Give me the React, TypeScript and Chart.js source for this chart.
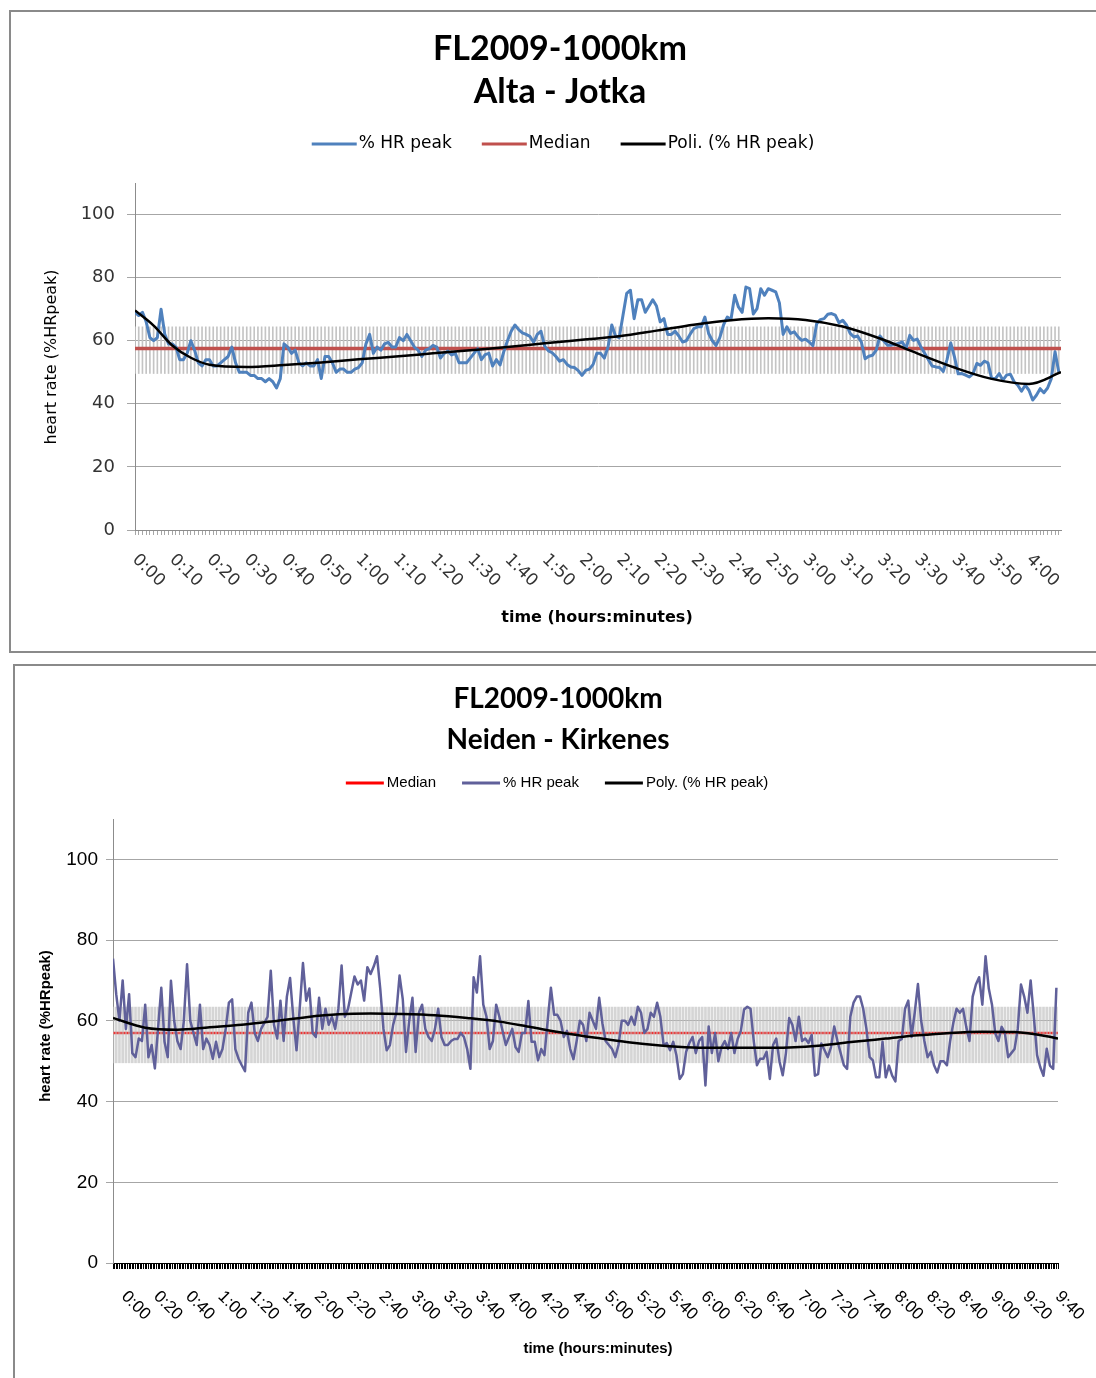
import { useEffect, useRef } from 'react';
import { Chart, registerables } from 'chart.js';

Chart.register(...registerables);

// ---------- Alta - Jotka : one reading per minute ----------
const altaTitle = ['FL2009-1000km', 'Alta - Jotka'];
const altaStepMin = 1;
const altaEndMin = 248.6;
const altaHr = [
  69, 68, 69, 66, 61, 60, 61, 70, 62, 59,
  59, 58, 54, 54, 56, 60, 57, 53, 52, 54,
  54, 52, 52, 53, 54, 55, 58, 53, 50, 50,
  50, 49, 49, 48, 48, 47, 48, 47, 45, 48,
  59, 58, 56, 57, 53, 52, 53, 52, 52, 54,
  48, 55, 55, 53, 50, 51, 51, 50, 50, 51,
  51.5, 53, 59, 62, 56, 58, 57, 59, 59.5, 58,
  58, 61, 60, 62, 60, 58, 57, 55, 57, 57.5,
  58.5, 58, 54.5, 56, 56.7, 55.5, 56, 53, 53, 53,
  54.5, 56, 57.5, 54, 55.6, 56, 52, 54, 52.3, 56.5,
  60, 63, 65, 63.5, 62.5, 62, 61.4, 59.5, 62, 63,
  58.2, 56.8, 56.2, 55, 53.5, 54, 52.5, 51.7, 51.5, 50.5,
  49, 50.6, 51, 52.5, 56, 56, 54.5, 58, 65, 61.5,
  61, 68, 75, 76, 67, 73, 73, 69, 71, 73,
  71, 66, 67, 62, 62, 63, 61.5, 59.6, 60, 62,
  63.8, 64.4, 64.4, 67.5, 62.3, 60, 58.5, 61, 65, 67.5,
  66.7, 74.4, 70.7, 69, 77, 76.5, 68.5, 70.2, 76.5, 74.4,
  76.5, 76, 75.5, 72, 62, 64.4, 62.3, 62.8, 61.2, 60.1,
  60.5, 59.6, 58.4, 65.4, 66.7, 67, 68.4, 68.6, 68.1, 65.7,
  66.5, 65, 62.3, 61.2, 61.5, 59.6, 54.3, 55.1, 55.4, 57,
  61.5, 60, 58.6, 58.6, 58.8, 59.1, 59.6, 57.5, 61.7, 60.1,
  60.5, 58, 56, 54, 52, 51.7, 51.5, 50.3, 54, 59.3,
  54.9, 49.5, 49.6, 49.1, 48.5, 49.6, 52.8, 52.2, 53.5, 53,
  48, 48, 49.6, 47.5, 49.1, 49.4, 47, 45.9, 44, 45.9,
  44.3, 41.2, 42.7, 44.8, 43.5, 45, 48, 56.5, 50.1,
];
const altaMedian = 57.5;
const altaZone = [49.6, 64.4];
const altaTrendMinutes = [0, 5, 10, 15, 20, 30, 40, 50, 60, 70, 80, 90, 100, 110, 120, 130, 140, 150, 160, 170, 180, 190, 200, 210, 220, 230, 240, 248.6];
const altaTrendValues = [69.6, 64.8, 58.5, 54.6, 52.4, 51.7, 52.3, 53.1, 54.1, 55.0, 56.0, 57.0, 58.0, 59.2, 60.3, 61.4, 63.2, 65.1, 66.5, 67.1, 66.6, 64.5, 60.7, 56.0, 51.5, 47.9, 46.3, 50.0];
const altaTickLabels = [
  '0:00', '0:10', '0:20', '0:30', '0:40', '0:50', '1:00', '1:10', '1:20', '1:30', '1:40', '1:50', '2:00',
  '2:10', '2:20', '2:30', '2:40', '2:50', '3:00', '3:10', '3:20', '3:30', '3:40', '3:50', '4:00',
];
const altaLabelEvery = 10;

// ---------- Neiden - Kirkenes : one reading every 2 minutes ----------
const kirkTitle = ['FL2009-1000km', 'Neiden - Kirkenes'];
const kirkStepMin = 2;
const kirkEndMin = 587;
const kirkHr = [
  75.4, 66.6, 60, 70, 58, 66.6, 52, 51, 55.6, 55,
  64, 51, 54, 48.2, 58.2, 68.2, 54.8, 51, 69.9, 60,
  55, 53, 60, 74, 60, 57, 54, 64, 53, 55.6,
  54, 50.6, 54.8, 51, 53, 58, 64.5, 65.3, 53, 50.6,
  49, 47.5, 62, 64.5, 57, 55, 58, 59.5, 61, 72.4,
  59, 55.6, 65, 55, 66, 70.6, 60.7, 52.7, 63.2, 74.3,
  65, 68, 57, 56, 65.7, 58, 63, 59, 61, 58,
  63, 73.7, 61, 63, 67, 71, 69, 70, 65, 73.3,
  71.6, 73.5, 76, 68, 58, 52.7, 54, 59, 62, 71.2,
  65.3, 52.3, 60, 65.7, 52.3, 62, 64, 58, 56, 55,
  58, 63, 56, 54, 54, 55, 55.5, 55.5, 57, 56,
  53, 48.1, 70.8, 67, 76, 64, 61, 53, 55, 64,
  61, 57.5, 54, 56, 58, 53.5, 52.3, 57, 57, 64.9,
  54.8, 54.8, 50.2, 53, 51.5, 60, 68.2, 61.5, 61.5, 60,
  56, 57.5, 53, 50.5, 55, 60, 59, 55, 62, 60,
  58, 65.7, 59.4, 55, 54, 53, 51, 54, 60, 60,
  59, 61, 59, 63.5, 62, 57, 58, 62, 61, 64.5,
  61, 54, 54.5, 52.7, 54.8, 51.4, 45.6, 46.8, 52.3, 54.5,
  56, 52, 55, 56, 44, 58.6, 52, 57, 50, 53.5,
  55, 53, 57, 52, 55.5, 57.5, 62.8, 63.5, 63, 55,
  49, 50.6, 50.6, 52.3, 45.6, 54, 55.6, 50, 46.5, 52,
  60.7, 59, 55, 61, 55, 55.6, 54.5, 56.5, 46.4, 46.8,
  54.4, 52.7, 51, 53.5, 58.6, 55, 52, 49, 48.1, 61,
  64.5, 66, 66, 63, 58, 51, 50.2, 46, 46, 54.8,
  46, 48.9, 46.4, 45, 55, 55.5, 63, 65, 56, 62,
  69.1, 60, 55, 51, 52.3, 49, 47.2, 50, 50, 49,
  55, 59.5, 63, 62, 63, 58.5, 55, 66, 69, 70.8,
  64, 76, 68, 64, 57, 55, 58.5, 57, 51, 52,
  53, 58, 69, 66, 62, 70, 61, 51.5, 48.5, 46.4,
  53.1, 48.9, 48.1, 68.2,
];
const kirkMedian = 57;
const kirkZone = [49.6, 63.4];
const kirkTrendMinutes = [0, 20, 40, 60, 80, 100, 120, 140, 160, 180, 200, 220, 240, 260, 280, 300, 320, 340, 360, 380, 400, 420, 440, 460, 480, 500, 520, 540, 560, 580, 587];
const kirkTrendValues = [60.7, 58.3, 57.8, 58.4, 59.0, 59.9, 60.9, 61.6, 61.8, 61.7, 61.4, 60.7, 59.8, 58.4, 57.0, 55.8, 54.7, 53.9, 53.4, 53.3, 53.3, 53.4, 53.9, 54.8, 55.6, 56.4, 57.0, 57.3, 57.2, 56.2, 55.6];
const kirkTickLabels = [
  '0:00', '0:20', '0:40', '1:00', '1:20', '1:40', '2:00', '2:20', '2:40', '3:00', '3:20', '3:40', '4:00', '4:20', '4:40',
  '5:00', '5:20', '5:40', '6:00', '6:20', '6:40', '7:00', '7:20', '7:40', '8:00', '8:20', '8:40', '9:00', '9:20', '9:40',
];
const kirkLabelEvery = 20;

const yTitle = 'heart rate (%HRpeak)';
const xTitle = 'time (hours:minutes)';

// text that Excel puts around the plot; drawn by hand so it lands where the original has it
function excelTextPlugin(t: any) {
  return {
    id: 'excelText',
    afterDraw(chart: any) {
      const ctx = chart.ctx;
      ctx.save();
      ctx.fillStyle = '#000';
      ctx.textBaseline = 'middle';

      ctx.font = t.titleFont;
      ctx.textAlign = 'center';
      t.title.forEach((line: string, i: number) => ctx.fillText(line, t.titleX, t.titleYs[i]));

      // legend
      ctx.font = t.legendFont;
      ctx.textAlign = 'left';
      const items = t.legend.map((i: number) => chart.data.datasets[i]);
      const widths = items.map((ds: any) => t.legendLine + t.legendTextGap + ctx.measureText(ds.label).width);
      const total = widths.reduce((a: number, b: number) => a + b, 0) + t.legendItemGap * (items.length - 1);
      let x = t.legendX - total / 2;
      items.forEach((ds: any, k: number) => {
        ctx.strokeStyle = ds.borderColor;
        ctx.lineWidth = 3;
        ctx.beginPath();
        ctx.moveTo(x, t.legendY);
        ctx.lineTo(x + t.legendLine, t.legendY);
        ctx.stroke();
        ctx.fillText(ds.label, x + t.legendLine + t.legendTextGap, t.legendY);
        x += widths[k] + t.legendItemGap;
      });

      // axis titles
      ctx.font = t.xTitleFont;
      ctx.textAlign = 'center';
      ctx.fillText(xTitle, t.xTitleX, t.xTitleY);
      ctx.save();
      ctx.translate(t.yTitleX, t.yTitleY);
      ctx.rotate(-Math.PI / 2);
      ctx.font = t.yTitleFont;
      ctx.fillText(yTitle, 0, 0);
      ctx.restore();

      // time labels, slanted downwards like Excel does
      const xs = chart.scales.x;
      ctx.font = t.xLabelFont;
      ctx.fillStyle = t.xLabelColor;
      ctx.textAlign = 'left';
      t.xLabels.forEach((lab: string, i: number) => {
        const px = xs.getPixelForValue(i * t.xLabelEvery);
        ctx.save();
        ctx.translate(px + t.xLabelDx, xs.top + t.xLabelDy);
        ctx.rotate(Math.PI / 4);
        ctx.fillText(lab, 0, 0);
        ctx.restore();
      });
      ctx.restore();
    },
  };
}

function altaConfig(): any {
  const hr = altaHr.map((v, i) => ({ x: i * altaStepMin, y: v }));
  const zone = altaHr.map((_, i) => ({ x: i * altaStepMin, y: altaZone }));
  const trend = altaTrendMinutes.map((m, i) => ({ x: m, y: altaTrendValues[i] }));
  return {
    type: 'line',
    data: {
      datasets: [
        { label: '% HR peak', data: hr, borderColor: '#4f81bd', borderWidth: 3, order: 1, borderJoinStyle: 'round' },
        { label: 'Median', data: [{ x: 0, y: altaMedian }, { x: altaEndMin, y: altaMedian }], borderColor: '#c0504d', borderWidth: 3.5, order: 2 },
        { label: 'Poli. (% HR peak)', data: trend, borderColor: '#000', borderWidth: 2.5, cubicInterpolationMode: 'monotone', order: 0 },
        { type: 'bar', label: 'zone', data: zone, backgroundColor: '#c4c4c4', barThickness: 1, order: 3 },
      ],
    },
    options: {
      animation: false,
      responsive: false,
      events: [],
      elements: { point: { radius: 0 } },
      layout: { padding: { top: 171, right: 35, left: 0, bottom: 0 } },
      plugins: { legend: { display: false }, title: { display: false }, tooltip: { enabled: false } },
      scales: {
        x: {
          type: 'linear', min: 0, max: altaEndMin, offset: false,
          ticks: { display: false, stepSize: 1, includeBounds: false },
          grid: { drawOnChartArea: false, tickLength: 5, color: '#a6a6a6', offset: false },
          border: { color: '#8c8c8c' },
          afterFit: (s: any) => { s.height = 121; },
        },
        y: {
          min: 0, max: 110,
          ticks: { stepSize: 20, includeBounds: false, padding: 12, color: '#333', font: { family: 'DejaVu Sans', size: 18 } },
          grid: { color: '#a6a6a6', tickLength: 8 },
          border: { color: '#8c8c8c' },
          afterFit: (s: any) => { s.width = 124; },
        },
      },
    },
    plugins: [excelTextPlugin({
      title: altaTitle, titleFont: 'bold 34px Lato', titleX: 549, titleYs: [37, 80],
      legend: [0, 1, 2], legendFont: '17px "DejaVu Sans"', legendX: 552, legendY: 132, legendLine: 45, legendTextGap: 2, legendItemGap: 30,
      yTitleFont: '16px "DejaVu Sans"', yTitleX: 41, yTitleY: 345,
      xTitleFont: 'bold 16px "DejaVu Sans"', xTitleX: 586, xTitleY: 606,
      xLabels: altaTickLabels, xLabelEvery: altaLabelEvery, xLabelFont: '17px "DejaVu Sans"', xLabelColor: '#333', xLabelDx: 0, xLabelDy: 27,
    })],
  };
}

function kirkConfig(): any {
  const hr = kirkHr.map((v, i) => ({ x: i * kirkStepMin, y: v }));
  const zone = kirkHr.map((_, i) => ({ x: i * kirkStepMin, y: kirkZone }));
  const trend = kirkTrendMinutes.map((m, i) => ({ x: m, y: kirkTrendValues[i] }));
  return {
    type: 'line',
    data: {
      datasets: [
        { label: 'Median', data: [{ x: 0, y: kirkMedian }, { x: kirkEndMin, y: kirkMedian }], borderColor: '#ff0000', borderWidth: 2.5, order: 3 },
        { label: '% HR peak', data: hr, borderColor: '#60609a', borderWidth: 2.5, order: 1, borderJoinStyle: 'round' },
        { label: 'Poly. (% HR peak)', data: trend, borderColor: '#000', borderWidth: 2.5, cubicInterpolationMode: 'monotone', order: 0 },
        { type: 'bar', label: 'zone', data: zone, backgroundColor: 'rgba(190,190,190,0.65)', barThickness: 2, order: 2 },
      ],
    },
    options: {
      animation: false,
      responsive: false,
      events: [],
      elements: { point: { radius: 0 } },
      layout: { padding: { top: 153, right: 38, left: 0, bottom: 0 } },
      plugins: { legend: { display: false }, title: { display: false }, tooltip: { enabled: false } },
      scales: {
        x: {
          type: 'linear', min: 0, max: kirkEndMin, offset: false,
          ticks: { display: false, stepSize: 1, includeBounds: false },
          grid: { drawOnChartArea: false, tickLength: 6, color: '#000', offset: false },
          border: { color: '#000' },
          afterFit: (s: any) => { s.height = 115; },
        },
        y: {
          min: 0, max: 110,
          ticks: { stepSize: 20, includeBounds: false, padding: 8, color: '#000', font: { family: 'Liberation Sans', size: 19 } },
          grid: { color: '#a6a6a6', tickLength: 7 },
          border: { color: '#8c8c8c' },
          afterFit: (s: any) => { s.width = 98; },
        },
      },
    },
    plugins: [excelTextPlugin({
      title: kirkTitle, titleFont: 'bold 28px Lato', titleX: 543, titleYs: [33, 74],
      legend: [0, 1, 2], legendFont: '15px "Liberation Sans"', legendX: 542, legendY: 117, legendLine: 38, legendTextGap: 3, legendItemGap: 26,
      yTitleFont: 'bold 15px "Liberation Sans"', yTitleX: 31, yTitleY: 360,
      xTitleFont: 'bold 15px "Liberation Sans"', xTitleX: 583, xTitleY: 683,
      xLabels: kirkTickLabels, xLabelEvery: kirkLabelEvery, xLabelFont: '17px "Liberation Sans"', xLabelColor: '#000', xLabelDx: 11, xLabelDy: 31,
    })],
  };
}

function HrChart({ width, height, build }: { width: number; height: number; build: () => any }) {
  const canvasRef = useRef<HTMLCanvasElement>(null);

  useEffect(() => {
    if (!canvasRef.current) return;
    const chart = new Chart(canvasRef.current, build());
    return () => chart.destroy();
  }, [build]);

  return <canvas ref={canvasRef} width={width} height={height} style={{ display: 'block' }} />;
}

export default function App() {
  return (
    <div style={{ position: 'absolute', left: 0, top: 0, width: 1096, height: 1378, overflow: 'hidden', background: '#fff' }}>
      <div style={{ position: 'absolute', left: 9, top: 10, width: 1100, height: 639, border: '2px solid #8a8a8a' }}>
        <HrChart width={1085} height={639} build={altaConfig} />
      </div>
      <div style={{ position: 'absolute', left: 13, top: 664, width: 1100, height: 760, border: '2px solid #8a8a8a' }}>
        <HrChart width={1081} height={712} build={kirkConfig} />
      </div>
    </div>
  );
}
